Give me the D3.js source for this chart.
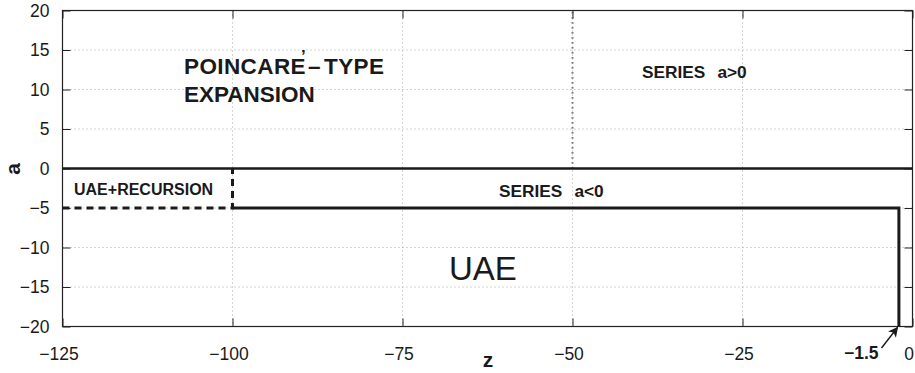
<!DOCTYPE html>
<html>
<head>
<meta charset="utf-8">
<script src="https://cdn.jsdelivr.net/npm/d3@7"></script>
<style>
  body { margin: 0; background: #fff; }
  svg { display: block; font-family: "Liberation Sans", Arial, Helvetica, sans-serif; }
  .tick-label { font-size: 17.5px; fill: #1a1a1a; }
  .region-label { font-weight: bold; fill: #1a1a1a; }
</style>
</head>
<body>
<svg id="chart"></svg>
<script>
// axis ticks
const xTicks = [-125, -100, -75, -50, -25, 0];
const yTicks = [-20, -15, -10, -5, 0, 5, 10, 15, 20];

// region boundaries in the (z, a) plane
const lineA0 = [[-125, 0], [0, 0]];
const seriesDivider = [[-50, 0], [-50, 20]];
const recursionEdge = [[-125, -5], [-100, -5], [-100, 0]];
const uaeEdge = [[-100, -5], [-2, -5], [-2, -20]];

const W = 915, H = 373;
const margin = { top: 10.5, right: 2.5, bottom: 46.5, left: 62.5 };
const width = W - margin.left - margin.right;
const height = H - margin.top - margin.bottom;

const svg = d3.select("#chart").attr("width", W).attr("height", H);

const x = d3.scaleLinear().domain([-125, 0]).range([0, width]);
const y = d3.scaleLinear().domain([-20, 20]).range([height, 0]);

const g = svg.append("g").attr("transform", `translate(${margin.left},${margin.top})`);

const fmt = d => d < 0 ? "\u2212" + Math.abs(d) : String(d);

// dotted grid
g.append("g").selectAll("line").data(xTicks.slice(1, -1)).join("line")
  .attr("x1", d => x(d)).attr("x2", d => x(d))
  .attr("y1", 0).attr("y2", height)
  .attr("stroke", "#a8a8a8").attr("stroke-width", 1)
  .attr("stroke-dasharray", "1,3");
g.append("g").selectAll("line").data(yTicks.slice(1, -1)).join("line")
  .attr("y1", d => y(d)).attr("y2", d => y(d))
  .attr("x1", 0).attr("x2", width)
  .attr("stroke", "#a8a8a8").attr("stroke-width", 1)
  .attr("stroke-dasharray", "1,3");

// inward ticks on all four sides
const tl = 8;
const xAxisB = d3.axisBottom(x).tickValues(xTicks).tickSize(-tl).tickFormat(fmt).tickSizeOuter(0).tickPadding(tl + 13);
const xAxisT = d3.axisTop(x).tickValues(xTicks).tickSize(-tl).tickFormat("").tickSizeOuter(0);
const yAxisL = d3.axisLeft(y).tickValues(yTicks).tickSize(-tl).tickFormat(fmt).tickSizeOuter(0).tickPadding(tl + 5);
const yAxisR = d3.axisRight(y).tickValues(yTicks).tickSize(-tl).tickFormat("").tickSizeOuter(0);

function styleAxis(sel) {
  sel.select(".domain").remove();
  sel.selectAll(".tick line").attr("stroke", "#222");
  sel.selectAll(".tick text").attr("class", "tick-label").attr("font-size", null).attr("font-family", null);
}
g.append("g").attr("transform", `translate(0,${height})`).call(xAxisB).call(styleAxis)
  .selectAll(".tick text").attr("dx", -4);
g.append("g").call(xAxisT).call(styleAxis);
g.append("g").call(yAxisL).call(styleAxis);
g.append("g").attr("transform", `translate(${width},0)`).call(yAxisR).call(styleAxis);

// box
g.append("rect").attr("width", width).attr("height", height)
  .attr("fill", "none").attr("stroke", "#222").attr("stroke-width", 1.2);

const line = d3.line().x(d => x(d[0])).y(d => y(d[1]));

g.append("path").attr("d", line(seriesDivider))
  .attr("fill", "none").attr("stroke", "#555").attr("stroke-width", 2)
  .attr("stroke-dasharray", "1.2,3.8");

g.append("path").attr("d", line(lineA0))
  .attr("fill", "none").attr("stroke", "#1a1a1a").attr("stroke-width", 2.6);

g.append("path").attr("d", line(recursionEdge))
  .attr("fill", "none").attr("stroke", "#1a1a1a").attr("stroke-width", 3)
  .attr("stroke-dasharray", "7,5");

g.append("path").attr("d", line(uaeEdge))
  .attr("fill", "none").attr("stroke", "#1a1a1a").attr("stroke-width", 3)
  .attr("stroke-linejoin", "miter");

// region labels
const poin = svg.append("text").attr("class", "region-label")
  .attr("x", 184).attr("y", 73.5).attr("font-size", 22.5)
  .attr("letter-spacing", 0.4);
poin.append("tspan").text("POINCARE");
// the detached accent over the end of the E
poin.append("tspan").attr("dx", -5).attr("dy", -12).attr("font-size", 17).text("\u2019");
poin.append("tspan").attr("dx", 2).attr("dy", 12).text("\u2013");
poin.append("tspan").attr("dx", 3).text("TYPE");
svg.append("text").attr("class", "region-label")
  .attr("x", 184).attr("y", 101.5).attr("font-size", 22.5)
  .text("EXPANSION");

const s1 = svg.append("text").attr("class", "region-label")
  .attr("x", 642).attr("y", 78).attr("font-size", 17.3);
s1.append("tspan").text("SERIES");
s1.append("tspan").attr("dx", 12).text("a>0");
const s2 = svg.append("text").attr("class", "region-label")
  .attr("x", 499).attr("y", 197).attr("font-size", 17.3);
s2.append("tspan").text("SERIES");
s2.append("tspan").attr("dx", 12).text("a<0");
svg.append("text").attr("class", "region-label")
  .attr("x", 74).attr("y", 195).attr("font-size", 16)
  .text("UAE+RECURSION");
svg.append("text")
  .attr("x", 449).attr("y", 279.5).attr("font-size", 33).attr("fill", "#1a1a1a")
  .text("UAE");

// annotation -1.5 with arrow
svg.append("text").attr("class", "region-label")
  .attr("x", 844).attr("y", 358.5).attr("font-size", 17.5)
  .text("\u22121.5");
svg.append("defs").append("marker")
  .attr("id", "arr").attr("viewBox", "0 0 10 10").attr("refX", 9).attr("refY", 5)
  .attr("markerWidth", 11).attr("markerHeight", 10).attr("orient", "auto")
  .attr("markerUnits", "userSpaceOnUse")
  .append("path").attr("d", "M0,0 L10,5 L0,10 L2.5,5 Z").attr("fill", "#1a1a1a");
svg.append("line")
  .attr("x1", 881.5).attr("y1", 348).attr("x2", 897.5).attr("y2", 327.5)
  .attr("stroke", "#1a1a1a").attr("stroke-width", 1.4)
  .attr("marker-end", "url(#arr)");

// axis titles
svg.append("text").attr("class", "region-label")
  .attr("x", margin.left + width / 2 + 0.5).attr("y", 367).attr("font-size", 21)
  .attr("text-anchor", "middle").text("z");
svg.append("text").attr("class", "region-label")
  .attr("transform", `translate(20,${margin.top + height / 2 + 0.5}) rotate(-90)`)
  .attr("font-size", 21).attr("text-anchor", "middle").text("a");
</script>
</body>
</html>
